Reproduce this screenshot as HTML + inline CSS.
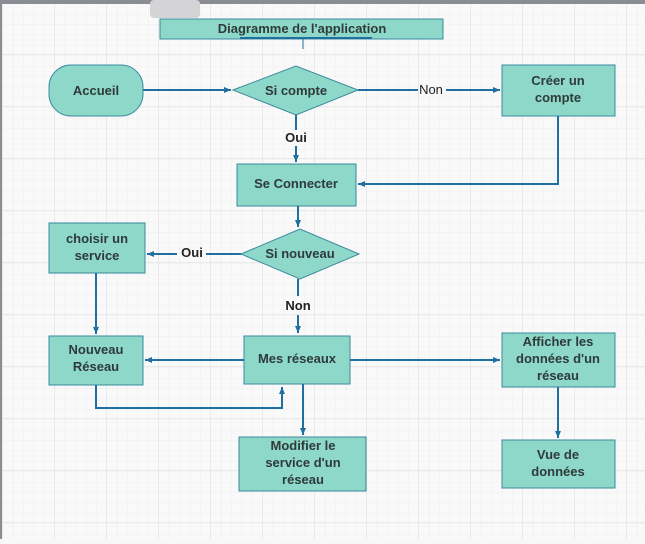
<!DOCTYPE html>
<html><head><meta charset="utf-8"><style>
body{margin:0;width:645px;height:539px;overflow:hidden;background:#f7f7f7;font-family:"Liberation Sans",sans-serif}
</style></head><body>
<svg width="645" height="539" xmlns="http://www.w3.org/2000/svg">
<defs>
<pattern id="g" width="10.4" height="10.4" patternUnits="userSpaceOnUse" x="3" y="4"><path d="M10.4 0V10.4H0" fill="none" stroke="#ebebeb" stroke-width="0.8"/></pattern>
<pattern id="G" width="52" height="52" patternUnits="userSpaceOnUse" x="3" y="3"><path d="M52 0V52H0" fill="none" stroke="#dadada" stroke-width="1"/></pattern>
<marker id="a" markerWidth="8" markerHeight="8" refX="7" refY="4" orient="auto" markerUnits="userSpaceOnUse"><path d="M0 1L7 4L0 7z" fill="#1f6fa0"/></marker>
</defs>
<rect width="645" height="539" fill="#f9f9f9"/>
<rect width="645" height="539" fill="url(#g)"/>
<rect width="645" height="539" fill="url(#G)"/>
<rect x="0" y="0" width="645" height="4" fill="#8a8d94"/>
<rect x="0" y="0" width="2" height="539" fill="#8a8d94"/>
<rect x="150" y="0" width="50" height="18" rx="4" fill="#d4d4d6"/>
<g fill="#8dd8c8" stroke="#3a8aa0" stroke-width="1">
<rect x="160" y="19" width="283" height="20"/>
<rect x="49" y="65" width="94" height="51" rx="22"/>
<polygon points="233,90 296,66 358,90 296,115"/>
<rect x="502" y="65" width="113" height="51"/>
<rect x="237" y="164" width="119" height="42"/>
<polygon points="241,254 300,229 359,254 300,279"/>
<rect x="49" y="223" width="96" height="50"/>
<rect x="244" y="336" width="106" height="48"/>
<rect x="49" y="336" width="94" height="49"/>
<rect x="502" y="333" width="113" height="54"/>
<rect x="239" y="437" width="127" height="54"/>
<rect x="502" y="440" width="113" height="48"/>
</g>
<g fill="none" stroke="#1f6fa0" stroke-width="2">
<path d="M240 38H372"/>
<path d="M303 39V49" stroke-width="1"/>
<path d="M143 90H231" marker-end="url(#a)"/>
<path d="M358 90H418M446 90H500" marker-end="url(#a)"/>
<path d="M296 115V130"/>
<path d="M296 146V162" marker-end="url(#a)"/>
<path d="M558 116V184H358" marker-end="url(#a)"/>
<path d="M298 206V227" marker-end="url(#a)"/>
<path d="M241 254H206M177 254H147" marker-end="url(#a)"/>
<path d="M298 279V296M298 315V333" marker-end="url(#a)"/>
<path d="M96 273V334" marker-end="url(#a)"/>
<path d="M244 360H145" marker-end="url(#a)"/>
<path d="M96 385V408H282V387" marker-end="url(#a)"/>
<path d="M350 360H500" marker-end="url(#a)"/>
<path d="M303 384V435" marker-end="url(#a)"/>
<path d="M558 387V438" marker-end="url(#a)"/>
</g>
<g font-family="Liberation Sans, sans-serif" font-weight="bold" font-size="13" fill="#2f3a3a" text-anchor="middle">
<text x="302" y="33">Diagramme de l'application</text>
<text x="96" y="95">Accueil</text>
<text x="296" y="95">Si compte</text>
<text x="558" y="85">Créer un</text><text x="558" y="102">compte</text>
<text x="296" y="188">Se Connecter</text>
<text x="300" y="258">Si nouveau</text>
<text x="97" y="243">choisir un</text><text x="97" y="260">service</text>
<text x="297" y="363">Mes réseaux</text>
<text x="96" y="354">Nouveau</text><text x="96" y="371">Réseau</text>
<text x="558" y="346">Afficher les</text><text x="558" y="363">données d'un</text><text x="558" y="380">réseau</text>
<text x="303" y="450">Modifier le</text><text x="303" y="467">service d'un</text><text x="303" y="484">réseau</text>
<text x="558" y="459">Vue de</text><text x="558" y="476">données</text>
</g>
<g font-family="Liberation Sans, sans-serif" font-size="13" fill="#222" text-anchor="middle">
<text x="431" y="94">Non</text>
<text x="296" y="142" font-weight="bold">Oui</text>
<text x="192" y="257" font-weight="bold">Oui</text>
<text x="298" y="310" font-weight="bold">Non</text>
</g>
</svg>
</body></html>
